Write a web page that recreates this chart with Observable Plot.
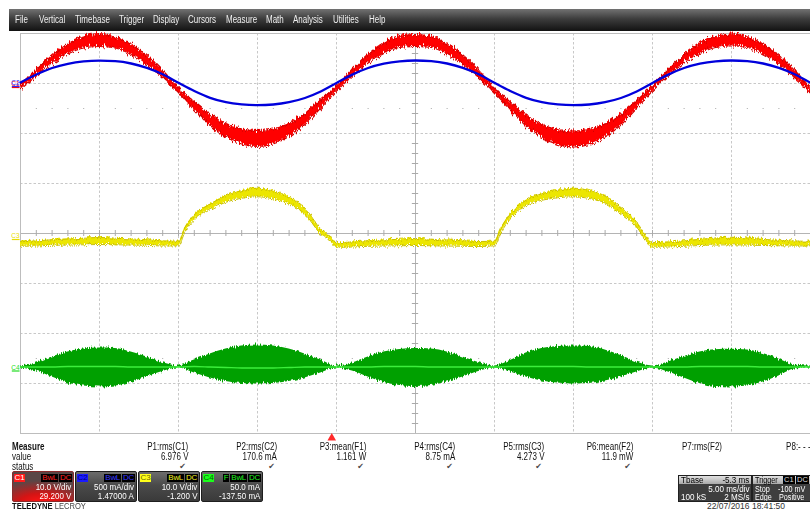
<!DOCTYPE html>
<html>
<head>
<meta charset="utf-8">
<script src="https://cdn.jsdelivr.net/npm/d3@7"></script>
<script src="https://cdn.jsdelivr.net/npm/@observablehq/plot@0.6"></script>
<style>
  html, body { margin: 0; padding: 0; background: #fff; }
  #scope { position: relative; width: 810px; height: 510px; overflow: hidden; background: #fff;
           font-family: "Liberation Sans", Arial, sans-serif; }
  #scope > svg { position: absolute; left: 0; top: 0; }
  .abs { position: absolute; white-space: nowrap; }
  #menu { position: absolute; left: 9px; top: 9px; width: 801px; height: 22px;
          background: linear-gradient(#727272 0%, #3c3c3c 45%, #121212 100%); }
  #menu span { position: absolute; top: 5px; font-size: 10px; line-height: 12px; color: #f0f0f0; white-space: nowrap;
               transform: scaleX(0.8); transform-origin: left center; }
  .mtxt { font-size: 10px; line-height: 10px; color: #111; }
  .chbox { position: absolute; top: 471px; width: 60px; height: 29px; border: 1px solid #1e1e1e; border-radius: 2px;
           background: linear-gradient(#6c6c6c 0%, #4a4a4a 45%, #3a3a3a 100%); color: #fff; overflow: hidden; }
  .chbox .lab { position: absolute; left: 1px; top: 2px; width: 11px; height: 8px; font-size: 8px; line-height: 8.5px; text-align: center; }
  .chbox .tags { position: absolute; right: 1px; top: 2px; display: flex; gap: 1px; }
  .chbox .tags div { background: #000; padding: 0 1px; font-size: 8px; line-height: 8px; height: 8px; letter-spacing: -0.3px; }
  .chbox .row { position: absolute; right: 2px; font-size: 8.6px; line-height: 9.5px; height: 9.5px; color: #fff; white-space: nowrap;
                transform: scaleX(0.93); transform-origin: right center; }
  .tbox { position: absolute; top: 475px; height: 25px; border: 1px solid #202020; background: #3e3e3e; color: #fff; overflow: hidden; }
  .tbox .hd { position: absolute; left: 0; right: 0; top: 0; height: 8px; background: linear-gradient(#e2e2e2, #a9a9a9); }
  .tbox .t { position: absolute; font-size: 8.5px; line-height: 8px; height: 8px; white-space: nowrap; transform: scaleX(0.95); }
  .tbox .t.l { transform-origin: left center; }
  .tbox .t.r { transform-origin: right center; }
</style>
</head>
<body>
<div id="scope"></div>
<script>
// ---- sample times across the 10 divisions (5 ms/div), ms from the left edge
const sampleMs = d3.range(0, 51);

// C1 (red) voltage: centre of the trace band and half-thickness of its noise band, V
const c1Volts = [
  0.0, 2.9, 5.6, 7.7, 9.0, 9.4, 9.0, 7.6, 5.5, 2.7,
  -0.5, -3.7, -6.5, -8.6, -9.8, -10.2, -9.8, -8.5, -6.3, -3.3,
  -0.2, 2.9, 5.7, 7.8, 9.1, 9.4, 9.1, 7.7, 5.6, 2.7,
  -0.5, -3.7, -6.6, -8.7, -9.9, -10.3, -9.9, -8.6, -6.4, -3.4,
  -0.2, 2.9, 5.7, 7.8, 9.1, 9.5, 9.1, 7.7, 5.5, 2.7,
  -0.4
];
const c1Spread = [
  0.4, 0.6, 0.8, 1.0, 1.1, 1.2, 1.1, 1.0, 0.9, 0.7,
  0.5, 0.8, 1.1, 1.3, 1.5, 1.6, 1.5, 1.3, 1.1, 0.8,
  0.5, 0.6, 0.8, 1.0, 1.1, 1.2, 1.1, 1.0, 0.9, 0.7,
  0.5, 0.8, 1.1, 1.3, 1.5, 1.6, 1.5, 1.3, 1.1, 0.8,
  0.5, 0.6, 0.8, 1.0, 1.1, 1.2, 1.1, 1.0, 0.9, 0.7,
  0.5
];

// C2 (blue) current, mA
const c2Milliamps = [
  40, 120, 185, 227, 251, 259, 253, 230, 187, 123,
  37, -45, -113, -157, -179, -187, -180, -157, -115, -50,
  35, 119, 185, 228, 252, 260, 253, 230, 187, 123,
  37, -45, -113, -157, -179, -187, -180, -157, -115, -50,
  35, 119, 185, 228, 252, 260, 253, 230, 187, 123,
  37
];

// C3 (yellow) voltage, sampled more densely at the edges of each half-wave, V
const c3Ms = [
  0, 1, 2, 3, 4, 5, 6, 7, 8, 9, 10,
  10.4, 11, 12, 13, 14, 15, 16, 17, 18, 19, 19.6,
  20, 21, 22, 23, 24, 25, 26, 27, 28, 29, 30,
  30.4, 31, 32, 33, 34, 35, 36, 37, 38, 39, 39.6,
  40, 41, 42, 43, 44, 45, 46, 47, 48, 49, 50
];
const c3Volts = [
  -0.9, -0.8, -0.6, -0.5, -0.4, -0.3, -0.4, -0.5, -0.6, -0.8, -0.8,
  1.9, 4.4, 6.5, 8.1, 9.0, 9.4, 8.9, 7.8, 5.7, 1.6, 0.1,
  -1.1, -1.0, -0.8, -0.7, -0.6, -0.5, -0.6, -0.7, -0.8, -0.9, -0.8,
  1.8, 4.6, 7.3, 8.5, 9.1, 9.4, 9.0, 8.0, 5.8, 3.0, 0.2,
  -1.1, -1.0, -0.8, -0.6, -0.4, -0.3, -0.4, -0.6, -0.7, -0.8, -0.8
];
const c3Spread = [
  0.45, 0.5, 0.55, 0.6, 0.65, 0.7, 0.65, 0.6, 0.55, 0.5, 0.45,
  0.45, 0.5, 0.55, 0.65, 0.75, 0.85, 0.8, 0.7, 0.6, 0.5, 0.45,
  0.45, 0.5, 0.55, 0.6, 0.65, 0.7, 0.65, 0.6, 0.55, 0.5, 0.45,
  0.45, 0.5, 0.55, 0.65, 0.75, 0.85, 0.8, 0.7, 0.6, 0.5, 0.45,
  0.45, 0.5, 0.55, 0.6, 0.7, 0.75, 0.7, 0.6, 0.55, 0.5, 0.45
];

// C4 (green) current: upper and lower envelope of the switching ripple and its mean trace, mA
const c4Top = [
  5, 8, 14, 19, 22, 23, 22.5, 19, 14, 8.5,
  5, 11, 17, 22, 25, 26, 25, 22, 17, 11,
  5, 8, 14, 19, 21.5, 22.5, 22, 19, 14, 8.5,
  5, 10.5, 18, 22.5, 24.5, 25, 24.5, 21, 15.5, 9,
  5, 9, 14.5, 19, 21.3, 21.7, 21, 17.5, 12, 6,
  5
];
const c4Bottom = [
  3, 0, -6, -12, -15, -16, -15, -11.5, -6, -0.5,
  3, -2, -7, -10.5, -12.5, -13, -12.5, -10.5, -7, -2,
  3, 0, -6, -11.5, -14.5, -15.5, -14.5, -11, -6, -0.5,
  3, -1, -6, -10, -12, -13, -12.5, -10, -6, -1,
  3, -1, -7, -12.5, -15.5, -16, -15, -11, -5, 2,
  3
];
const c4Mean = [
  4, 4, 4, 4.5, 4.5, 4.5, 4.5, 4, 4, 4,
  4, 4.5, 4, 3.5, 3, 3, 3, 3.5, 4, 4,
  4, 4, 4, 4.5, 4.5, 4.5, 4, 4, 4, 4,
  4, 4.5, 4.5, 4.5, 4.5, 4.5, 4, 4, 4, 4,
  4, 4, 4, 4.5, 4.5, 4.5, 4.5, 4, 4, 4,
  4
];

// channel settings
const chNames = ["C1", "C2", "C3", "C4"];
const chPerDiv = [10, 500, 10, 50];          // V/div, mA/div, V/div, mA/div
const chOffset = [29.2, 1470, -1.2, -137.5];  // V, mA, V, mA
const chScaleText = ["10.0 V/div", "500 mA/div", "10.0 V/div", "50.0 mA"];
const chOffsetText = ["29.200 V", "1.47000 A", "-1.200 V", "-137.50 mA"];
const chTags = [["BwL", "DC"], ["BwL", "DC"], ["BwL", "DC"], ["F", "BwL", "DC"]];

// timebase / trigger
const timebaseDelayMs = -5.3;
const triggerMs = 25 + timebaseDelayMs;

// measurement table
const measureNames = ["P1:rms(C1)", "P2:rms(C2)", "P3:mean(F1)", "P4:rms(C4)", "P5:rms(C3)", "P6:mean(F2)", "P7:rms(F2)", "P8:- - -"];
const measureValues = ["6.976 V", "170.6 mA", "1.161 W", "8.75 mA", "4.273 V", "11.9 mW", "", ""];
const measureOk = [true, true, true, true, true, true, false, false];

const menuItems = ["File", "Vertical", "Timebase", "Trigger", "Display", "Cursors", "Measure", "Math", "Analysis", "Utilities", "Help"];

// ---- styling
const traceColor = ["#ff0000", "#0000dc", "#ece600", "#00a000"];
const labelColor = ["#ff0000", "#2a2aff", "#e8dc00", "#22dd22"];

// screen position in divisions from centre
const toDiv = (value, ch) => (value + chOffset[ch]) / chPerDiv[ch];

const c1Rows = sampleMs.map((t, i) => ({t, lo: c1Volts[i] - c1Spread[i], hi: c1Volts[i] + c1Spread[i]}));
const c2Rows = sampleMs.map((t, i) => ({t, v: c2Milliamps[i]}));
const c3Rows = c3Ms.map((t, i) => ({t, lo: c3Volts[i] - c3Spread[i], hi: c3Volts[i] + c3Spread[i]}));
const c4Rows = sampleMs.map((t, i) => ({t, top: c4Top[i], bottom: c4Bottom[i], mean: c4Mean[i]}));

const minorMs = d3.range(1, 50);
const minorDiv = d3.range(-19, 20).filter(k => k % 5 !== 0).map(k => k / 5);
const dotRows = minorMs.filter(t => t % 5 !== 0).flatMap(t => [{t, d: 2.5}, {t, d: -2.5}]);
const chIndex = [0, 1, 2, 3];

const curve = "monotone-x";
const plot = Plot.plot({
  width: 810,
  height: 510,
  marginLeft: 20,
  marginRight: 0,
  marginTop: 33,
  marginBottom: 77,
  x: {domain: [0, 50], axis: null},
  y: {domain: [-4, 4], axis: null},
  style: {background: "transparent", fontFamily: "'Liberation Sans', Arial, sans-serif"},
  marks: [
    // graticule
    Plot.ruleY([-3, -2, -1, 1, 2, 3], {stroke: "#c8c8c8", strokeDasharray: "2.5,2"}),
    Plot.ruleX([5, 10, 15, 20, 30, 35, 40, 45], {stroke: "#c8c8c8", strokeDasharray: "2.5,2"}),
    Plot.ruleX([25], {stroke: "#b4b4b4"}),
    Plot.ruleY([0], {stroke: "#b4b4b4"}),
    Plot.ruleX(minorMs, {y1: -0.06, y2: 0.06, stroke: "#aaaaaa"}),
    Plot.ruleY(minorDiv, {x1: 24.8, x2: 25.2, stroke: "#aaaaaa"}),
    Plot.dot(dotRows, {x: "t", y: "d", r: 0.6, fill: "#a0a0a0", stroke: null}),
    Plot.frame({stroke: "#bdbdbd"}),

    // C1 band
    Plot.areaY(c1Rows, {x: "t", y1: d => toDiv(d.lo, 0), y2: d => toDiv(d.hi, 0), fill: traceColor[0], curve, ariaDescription: "c1"}),
    Plot.lineY(c1Rows, {x: "t", y: d => toDiv(d.hi, 0), stroke: "#d20000", strokeWidth: 1.2, curve, ariaDescription: "c1"}),
    Plot.lineY(c1Rows, {x: "t", y: d => toDiv(d.lo, 0), stroke: "#d20000", strokeWidth: 1.2, curve, ariaDescription: "c1"}),

    // C2 trace
    Plot.lineY(c2Rows, {x: "t", y: d => toDiv(d.v, 1), stroke: traceColor[1], strokeWidth: 2.3, curve}),

    // C3 band
    Plot.areaY(c3Rows, {x: "t", y1: d => toDiv(d.lo, 2), y2: d => toDiv(d.hi, 2), fill: traceColor[2], curve, ariaDescription: "c3"}),
    Plot.lineY(c3Rows, {x: "t", y: d => toDiv(d.hi, 2), stroke: "#c9bf00", strokeWidth: 1, curve, ariaDescription: "c3"}),
    Plot.lineY(c3Rows, {x: "t", y: d => toDiv(d.lo, 2), stroke: "#c9bf00", strokeWidth: 1, curve, ariaDescription: "c3"}),

    // C4 ripple envelope and mean
    Plot.areaY(c4Rows, {x: "t", y1: d => toDiv(d.bottom, 3), y2: d => toDiv(d.top, 3), fill: traceColor[3], curve, ariaDescription: "c4"}),
    Plot.lineY(c4Rows, {x: "t", y: d => toDiv(d.mean, 3), stroke: "#3cee3c", strokeWidth: 1.3, curve}),

    // channel ground markers at the left edge
    Plot.text(chIndex, {x: 0, y: i => chOffset[i] / chPerDiv[i], text: i => chNames[i], fill: i => labelColor[i],
                        fontSize: 6.5, dx: -5, dy: -3.5, textAnchor: "middle"}),
    Plot.link(chIndex, {x1: -0.55, x2: -0.06, y1: i => chOffset[i] / chPerDiv[i], y2: i => chOffset[i] / chPerDiv[i],
                        stroke: i => labelColor[i], strokeWidth: 1.2}),

    // trigger position marker
    Plot.dot([triggerMs], {x: d => d, y: -4, dy: 4.5, symbol: "triangle", r: 3.2, fill: "#ff2a2a", stroke: null})
  ]
});

// acquisition noise texture on the trace edges (vertical jitter only)
const defs = document.createElementNS("http://www.w3.org/2000/svg", "defs");
const jitter = (id, scale, seed) => `
  <filter id="${id}" filterUnits="userSpaceOnUse" x="0" y="0" width="810" height="510">
    <feTurbulence type="fractalNoise" baseFrequency="0.85 0.04" numOctaves="2" seed="${seed}" result="n"/>
    <feColorMatrix in="n" type="matrix" values="0 0 0 0 0.5  0 1 0 0 0  0 0 0 0 0  0 0 0 0 1" result="m"/>
    <feDisplacementMap in="SourceGraphic" in2="m" scale="${scale}" xChannelSelector="R" yChannelSelector="G"/>
  </filter>`;
defs.innerHTML = jitter("jit1", 9, 3) + jitter("jit3", 6, 7) + jitter("jit4", 6, 11);
plot.insertBefore(defs, plot.firstChild);
[["c1", "jit1"], ["c3", "jit3"], ["c4", "jit4"]].forEach(([k, f]) =>
  plot.querySelectorAll(`g[aria-description="${k}"]`).forEach(g => g.setAttribute("filter", `url(#${f})`)));

const scope = document.getElementById("scope");
scope.appendChild(plot);

function el(parent, cls, css, text) {
  const e = document.createElement("div");
  if (cls) e.className = cls;
  Object.assign(e.style, css || {});
  if (text != null) e.textContent = text;
  parent.appendChild(e);
  return e;
}
const narrowL = {transform: "scaleX(0.8)", transformOrigin: "left center"};
const narrowR = {transform: "scaleX(0.8)", transformOrigin: "right center"};

// menu bar
const menu = el(scope, null, {});
menu.id = "menu";
const menuX = [6, 30, 66, 110, 143.7, 179.3, 216.7, 256.7, 284.3, 324.3, 360.3];
menuItems.forEach((m, i) => {
  const s = document.createElement("span");
  s.textContent = m;
  s.style.left = menuX[i] + "px";
  menu.appendChild(s);
});

// measurement table
el(scope, "abs mtxt", {left: "12px", top: "442px", fontWeight: "bold", ...narrowL}, "Measure");
el(scope, "abs mtxt", {left: "12px", top: "452px", ...narrowL}, "value");
el(scope, "abs mtxt", {left: "12px", top: "462px", ...narrowL}, "status");
measureNames.forEach((name, i) => {
  const right = 810 - (188 + 89 * i);
  el(scope, "abs mtxt", {right: right + "px", top: "442px", ...narrowR}, name);
  if (measureValues[i]) el(scope, "abs mtxt", {right: right + "px", top: "452px", ...narrowR}, measureValues[i]);
  if (measureOk[i]) el(scope, "abs mtxt", {right: (right + 2) + "px", top: "462px", fontFamily: "'DejaVu Sans', sans-serif",
                                           fontSize: "8px", color: "#4a4a4a"}, "\u2714");
});

// channel descriptor boxes
const labelBg = ["#ff1a1a", "#1a1aff", "#ffff1a", "#1aff1a"];
const labelFg = ["#ffffff", "#00007a", "#6a6a00", "#006a00"];
const tagFg = ["#ff2020", "#3a3aff", "#f0f020", "#20f020"];
chNames.forEach((name, i) => {
  const box = el(scope, "chbox", {left: (12 + 63 * i) + "px"});
  if (i === 0) {
    box.style.background = "radial-gradient(ellipse 85% 75% at 45% 105%, #ff1414 0%, #d41414 40%, #5a4646 100%)";
    box.style.borderColor = "#8a2a2a";
  }
  el(box, "lab", {background: labelBg[i], color: labelFg[i]}, name);
  const tags = el(box, "tags", {});
  chTags[i].forEach(t => el(tags, null, {color: tagFg[i]}, t));
  el(box, "row", {top: "10.5px"}, chScaleText[i]);
  el(box, "row", {top: "20px"}, chOffsetText[i]);
});

// timebase box
const tb = el(scope, "tbox", {left: "678px", width: "72px"});
el(tb, "hd", {});
el(tb, "t l", {left: "2px", top: "0px", color: "#000"}, "Tbase");
el(tb, "t r", {right: "2px", top: "0px", color: "#000"}, timebaseDelayMs.toFixed(1) + " ms");
el(tb, "t r", {right: "2px", top: "8.5px"}, "5.00 ms/div");
el(tb, "t l", {left: "2px", top: "17px"}, "100 kS");
el(tb, "t r", {right: "2px", top: "17px"}, "2 MS/s");

// trigger box
const tr = el(scope, "tbox", {left: "752px", width: "70px"});
el(tr, "hd", {});
el(tr, "t l", {left: "2px", top: "0px", color: "#000", transform: "scaleX(0.85)"}, "Trigger");
el(tr, "t l", {left: "30px", top: "0px", background: "#000", color: "#ddd", fontSize: "7.5px", padding: "0 1px", transform: "none"}, "C1");
el(tr, "t l", {left: "43px", top: "0px", background: "#000", color: "#ddd", fontSize: "7.5px", padding: "0 1px", transform: "none"}, "DC");
el(tr, "t l", {left: "2px", top: "8.5px", transform: "scaleX(0.85)"}, "Stop");
el(tr, "t l", {left: "25px", top: "8.5px", transform: "scaleX(0.85)"}, "-100 mV");
el(tr, "t l", {left: "2px", top: "17px", transform: "scaleX(0.85)"}, "Edge");
el(tr, "t l", {left: "26px", top: "17px", transform: "scaleX(0.85)"}, "Positive");

// footer
const brand = el(scope, "abs", {left: "12px", top: "502px", fontSize: "9.5px", lineHeight: "8px", height: "8px", color: "#111", ...narrowL});
brand.innerHTML = "<b>TELEDYNE</b> <span style='color:#444'>LECROY</span>";
el(scope, "abs", {left: "707px", top: "502px", fontSize: "8.5px", lineHeight: "8px", height: "8px", color: "#333"}, "22/07/2016 18:41:50");
</script>
</body>
</html>
